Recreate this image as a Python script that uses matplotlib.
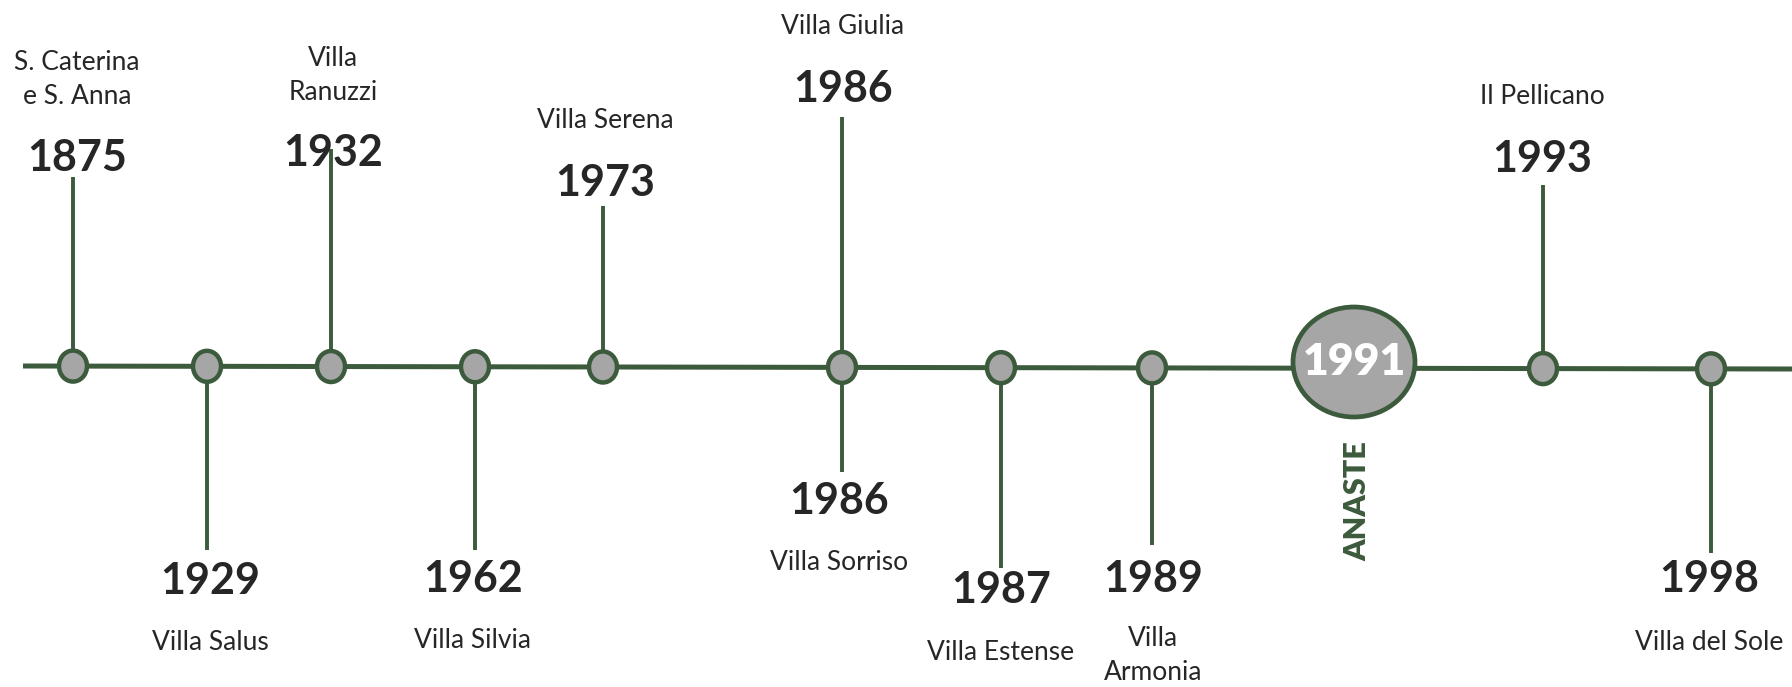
import matplotlib
matplotlib.use("Agg")
import matplotlib.pyplot as plt
from matplotlib.patches import Ellipse

# Timeline data
years = [1875, 1929, 1932, 1962, 1973, 1986, 1986, 1987, 1989, 1993, 1998]
names = ["S. Caterina\ne S. Anna", "Villa Salus", "Villa\nRanuzzi", "Villa Silvia",
         "Villa Serena", "Villa Giulia", "Villa Sorriso", "Villa Estense",
         "Villa\nArmonia", "Il Pellicano", "Villa del Sole"]
sides = ["up", "down", "up", "down", "up", "up", "down", "down", "down", "up", "down"]
node_of_event = [0, 1, 2, 3, 4, 5, 5, 6, 7, 8, 9]

milestone_year = 1991
milestone_label = "ANASTE"

# Layout (pixels, figure coordinates with origin top-left)
node_x = [73, 207, 331, 475, 603, 842, 1001, 1152, 1543, 1711]
stem_end = [177, 550, 149, 550, 206, 117, 472, 568, 545, 185, 553]
year_y = [158, 581, 153, 579, 183, 89, 501, 590, 579, 159, 579]
name_y = [79, 643, 76, 641, 120, 26, 563, 652, 655, 97, 642]
text_dx = [4, 3, 2, -2, 2, 1, -3, 0, 1, -1, -2]
big_x, big_y = 1354, 362
x0, y0, x1, y1 = 23, 366, 1792, 369


def line_y(x):
    return y0 + (y1 - y0) * (x - x0) / (x1 - x0)


green = "#3C5A3C"
grey = "#A6A6A6"
ink = "#262626"

plt.rcParams["font.family"] = ["Lato", "DejaVu Sans"]

W, H = 1792, 687
fig = plt.figure(figsize=(W / 100, H / 100), dpi=100)
ax = fig.add_axes([0, 0, 1, 1])
ax.set_xlim(0, W)
ax.set_ylim(H, 0)
ax.axis("off")

# main line
ax.plot([x0, x1], [y0, y1], color=green, lw=3.6, zorder=1, solid_capstyle="butt")

# stems, years and names
for i, yr in enumerate(years):
    x = node_x[node_of_event[i]]
    y = line_y(x)
    ax.plot([x, x], [y, stem_end[i]], color=green, lw=2.8, zorder=1,
            solid_capstyle="butt")
    tx = x + text_dx[i]
    ax.text(tx, year_y[i], str(yr), ha="center", va="center", fontsize=31,
            fontweight="bold", color=ink, zorder=3)
    ax.text(tx, name_y[i], names[i], ha="center", va="center", fontsize=19,
            color=ink, linespacing=1.45, zorder=3)

# small nodes
for x in node_x:
    ax.add_patch(Ellipse((x, line_y(x)), 28, 31, facecolor=grey, edgecolor=green,
                         lw=3.2, zorder=4))

# milestone circle
ax.add_patch(Ellipse((big_x, big_y), 122, 110, facecolor=grey, edgecolor=green,
                     lw=3.4, zorder=4))
ax.text(big_x, big_y, str(milestone_year), ha="center", va="center",
        fontsize=32, fontweight="heavy", color="white", zorder=5)
ax.text(big_x + 3, 501, milestone_label, ha="center", va="center", rotation=90,
        fontsize=22, fontweight="heavy", color=green, zorder=5)

fig.savefig("out.png", dpi=100, facecolor="white")
